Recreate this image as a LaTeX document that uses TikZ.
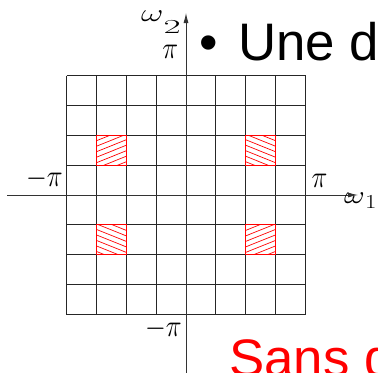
\documentclass[tikz,border=0pt]{standalone}
\usepackage{fontspec}
\newfontfamily\arial{Liberation Sans}
\usetikzlibrary{arrows.meta,calc}
\begin{document}
\begin{tikzpicture}[x=1bp,y=-1bp,
  gridline/.style={line width=0.9bp,black!85},
  axis/.style={line width=0.8bp,black!80},
  hatch/.style={red,line width=0.7bp},
  hatchbox/.style={red,line width=0.9bp},
  lab/.style={inner sep=0,xscale=1.08,yscale=1.25,font=\fontsize{24.88}{30}\selectfont},
  wlab/.style={inner sep=0,font=\fontsize{24.88}{30}\selectfont},
  big/.style={inner sep=0,font=\arial\fontsize{53}{60}\selectfont}]
\clip (0,0) rectangle (378,373);
% grid
\foreach \i in {0,...,8}{
  \draw[gridline] ({66.5+\i*29.875},75.5) -- ++(0,239);
  \draw[gridline] (66.5,{75.5+\i*29.875}) -- ++(239,0);
}
% hatched cells
\foreach \c/\r/\d in {1/2/1,6/2/-1,1/5/-1,6/5/1}{
  \begin{scope}
    \clip ({66.5+\c*29.875},{75.5+\r*29.875}) rectangle ++(29.875,29.875);
    \foreach \k in {-1,...,8}{
      \draw[hatch] ({66.5+\c*29.875},{75.5+\r*29.875+\k*5.5-6+(\d)*6}) -- ++(29.875,{-(\d)*12});
    }
  \end{scope}
  \draw[hatchbox] ({66.5+\c*29.875},{75.5+\r*29.875}) rectangle ++(29.875,29.875);
}
% axes
\coordinate (xs) at (7,195);
\coordinate (xe) at (358,195);
\coordinate (ys) at (186,373);
\coordinate (ye) at (186,13);
\draw[axis,-{Latex[length=10bp,width=5bp]}] (xs) -- (xe);
\draw[axis,-{Latex[length=10bp,width=5bp]}] (ys) -- (ye);
% labels
\node[wlab,anchor=base west] (w2) at (141,21)
  {\scalebox{1.4}[1]{$\omega$}\raisebox{-12bp}{\scalebox{1.5}[0.8]{2}}};
\node[lab,anchor=base east] (pt) at (178.5,58.5) {$\pi$};
\node[lab,anchor=base east] (pl) at (63,186.5) {$-\pi$};
\node[lab,anchor=base west] (pr) at (311.5,187) {$\pi$};
\node[wlab,anchor=base west] (w1) at (344,203)
  {\scalebox{1.3}[1]{$\omega$}\raisebox{-5bp}{\scalebox{1}[0.8]{1}}};
\node[lab,anchor=base east] (pb) at (182,336.5) {$-\pi$};
% text
\node[big,anchor=base west] (bul) at (199.5,60) {•};
\node[big,anchor=base west] (une) at (238,60) {Une d};
\node[big,anchor=base west,text=red] (sans) at (229,376) {Sans d};
\end{tikzpicture}
\end{document}
